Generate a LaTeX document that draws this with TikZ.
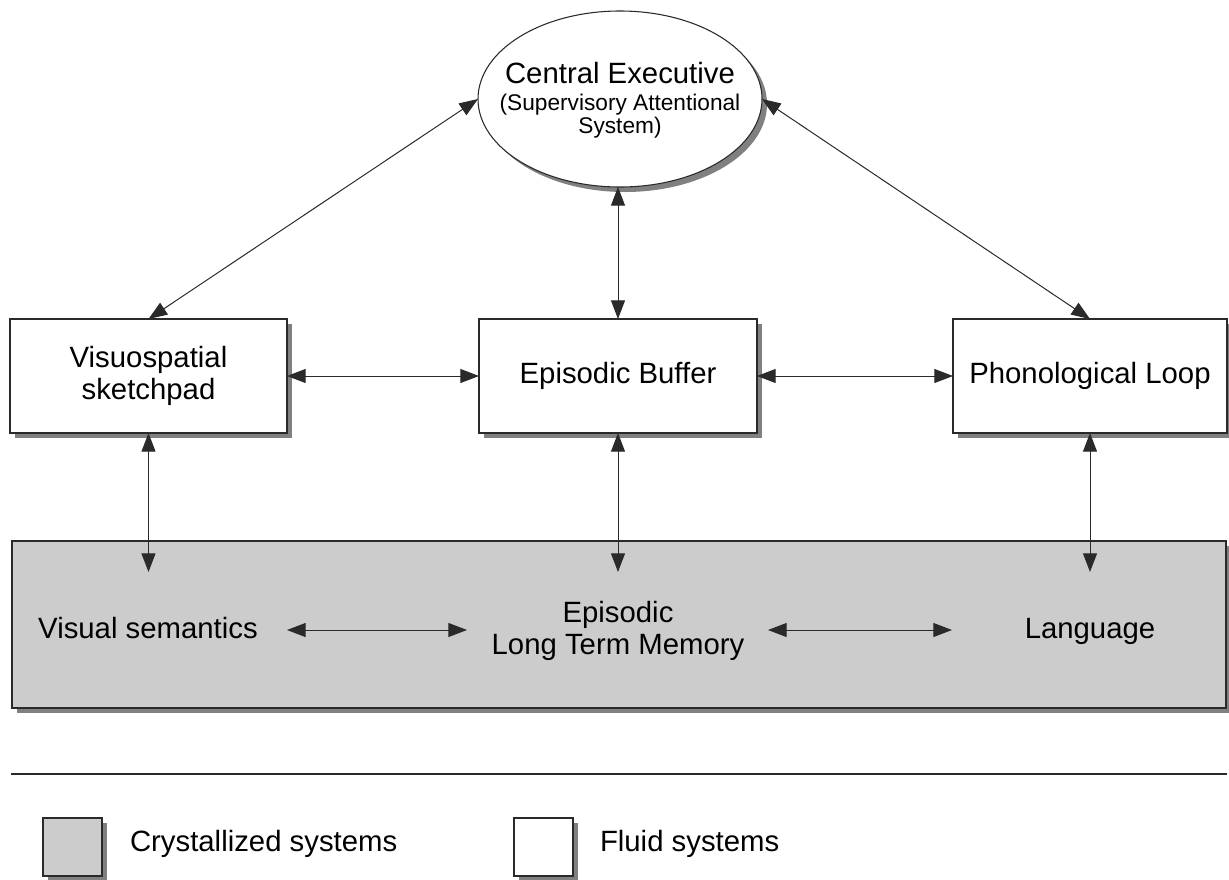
\documentclass[tikz,border=0pt]{standalone}
\usepackage{fontspec}
\setmainfont{Liberation Sans}
\usetikzlibrary{arrows.meta,shapes.geometric,shadows}
\definecolor{crystal}{HTML}{CCCCCC}
\definecolor{shade}{HTML}{808080}
\definecolor{edge}{HTML}{2A2A2A}
\begin{document}
\begin{tikzpicture}[x=0.75pt,y=-0.75pt,
  every node/.style={inner sep=0pt, outer sep=0pt},
  sys/.style={draw=edge, line width=0.8pt,
    drop shadow={shadow xshift=3.75pt, shadow yshift=-3.75pt, fill=shade, opacity=1}},
  fluid/.style={sys, fill=white, rectangle},
  crystallized/.style={sys, fill=crystal, rectangle},
  lbl/.style={font=\fontsize{22}{24}\selectfont, align=center},
  small/.style={font=\fontsize{17}{17.25}\selectfont},
  link/.style={draw=edge, line width=0.75pt,
    {Triangle[length=14pt,width=10.5pt]}-{Triangle[length=14pt,width=10.5pt]}},
  rule/.style={draw=edge, line width=0.8pt},
]
\useasboundingbox (0,0) rectangle (1229,879);

% crystallized long-term systems
\node[crystallized, minimum width=910.5pt, minimum height=125.25pt] (ltm) at (619,624.5) {};
\node[lbl, anchor=base] (vsem) at (148,638) {Visual semantics};
\node[lbl] (eltm) at (618,631) {Episodic\\Long Term Memory};
\node[lbl, anchor=base] (lang) at (1090,638) {Language};

% fluid working-memory systems
\node[sys, fill=white, ellipse, minimum width=213pt, minimum height=132pt] (ce) at (620,99) {};
\node[lbl, anchor=base] (ceA) at (620,83) {Central Executive};
\node[small, anchor=base] (ceB) at (620,110) {(Supervisory Attentional};
\node[small, anchor=base] (ceC) at (620,133) {System)};

\node[fluid, lbl, minimum width=207.75pt, minimum height=85.5pt] (vsk) at (148.5,376) {Visuospatial\\sketchpad};
\node[fluid, lbl, minimum width=208.5pt, minimum height=85.5pt] (eb) at (618,376) {Episodic Buffer};
\node[fluid, lbl, minimum width=205.5pt, minimum height=85.5pt] (pl) at (1090,376) {Phonological Loop};

% connector end points inside the long-term store
\coordinate (vsIn) at (148.5,572);
\coordinate (ebIn) at (618,572);
\coordinate (plIn) at (1090,572);
\coordinate (h1) at (287,630);
\coordinate (h2) at (467,630);
\coordinate (h3) at (768,630);
\coordinate (h4) at (952,630);

% connectors
\draw[link] (ce.west) -- (vsk.north);
\draw[link] (ce.east) -- (pl.north);
\draw[link] (eb.north) -- (eb.north |- ce.south);
\draw[link] (vsk.east) -- (eb.west);
\draw[link] (eb.east) -- (pl.west);
\draw[link] (vsk.south) -- (vsIn);
\draw[link] (eb.south) -- (ebIn);
\draw[link] (pl.south) -- (plIn);
\draw[link] (h1) -- (h2);
\draw[link] (h3) -- (h4);

% legend
\coordinate (r1) at (11,774);
\coordinate (r2) at (1227,774);
\draw[rule] (r1) -- (r2);
\node[crystallized, minimum width=44.25pt, minimum height=43.5pt] (keyC) at (72.5,847) {};
\node[lbl, anchor=base west] (keyCt) at (130,851) {Crystallized systems};
\node[fluid, minimum width=44.25pt, minimum height=43.5pt] (keyF) at (543.5,847) {};
\node[lbl, anchor=base west] (keyFt) at (600,851) {Fluid systems};
\end{tikzpicture}
\end{document}
